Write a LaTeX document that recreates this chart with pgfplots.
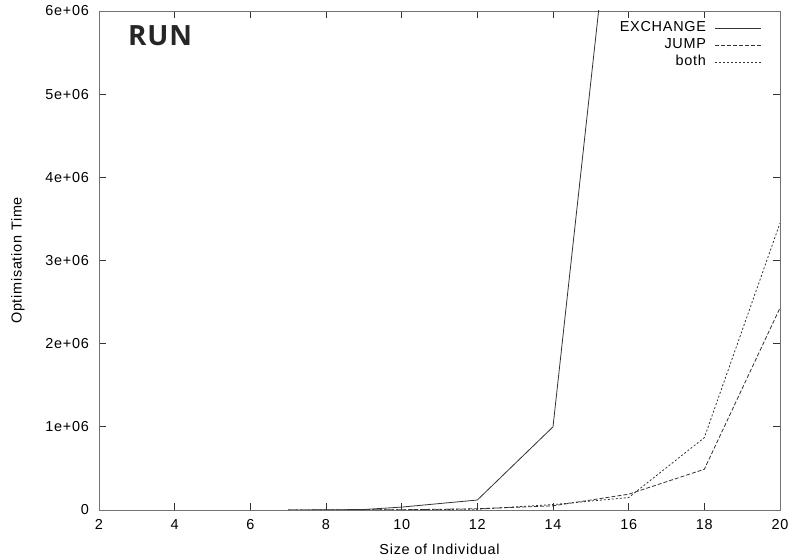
\documentclass[border=0pt]{standalone}
\usepackage{pgfplots}
\pgfplotsset{compat=1.18}
\usepackage{fontspec}
\setmainfont{Liberation Sans}[LetterSpace=5.0]
\newfontfamily\runfont{Open Sans}[LetterSpace=3.0]
\begin{document}
\begin{tikzpicture}
\begin{axis}[
  scale only axis,
  width=681bp, height=499bp,
  xmin=2, xmax=20, ymin=0, ymax=6e6,
  xtick={2,4,...,20},
  xticklabels={2,4,6,8,10,12,14,16,18,20},
  ytick={0,1e6,2e6,3e6,4e6,5e6,6e6},
  yticklabels={0,1e+06,2e+06,3e+06,4e+06,5e+06,6e+06},
  scaled y ticks=false,
  tick align=inside,
  major tick length=7bp,
  every tick/.style={black!80, line width=0.7bp},
  axis line style={black!55, line width=0.9bp},
  tick label style={font=\fontsize{14.5}{16}\selectfont},
  xticklabel style={inner sep=0pt, anchor=north, yshift=-9bp},
  yticklabel style={inner sep=0pt, anchor=east, xshift=-10bp},
  every axis x label/.style={at={(axis description cs:0.5,0)}, yshift=-39bp, anchor=center, font=\fontsize{14.5}{16}\selectfont},
  every axis y label/.style={at={(axis description cs:0,0.5)}, xshift=-81bp, rotate=90, anchor=center, font=\fontsize{14.5}{16}\selectfont},
  xlabel={Size of Individual},
  ylabel={Optimisation Time},
  legend plot pos=right,
  legend cell align=right,
  legend style={draw=none, fill=none, at={(axis description cs:0.9736,0.982)}, anchor=north east,
    inner sep=0pt, row sep=0pt, column sep=9bp,
    nodes={inner sep=0pt, text height=11.5bp, text depth=5.5bp, font=\fontsize{14.5}{16}\selectfont}},
  legend image code/.code={\draw[#1] (0bp,0bp) -- (46bp,0bp);},
]
\addplot[black!80, line width=0.8bp] coordinates {
 (7,0) (8,2000) (9,6000) (10,35000) (12,120000) (14,1000000) (16,9300000)};
\addlegendentry{EXCHANGE}
\addplot[black!80, line width=0.8bp, dash pattern=on 4bp off 2bp] coordinates {
 (7,0) (8,500) (10,3000) (12,15000) (14,50000) (16,190000) (18,490000) (20,2430000)};
\addlegendentry{JUMP}
\addplot[black!80, line width=0.8bp, dash pattern=on 2bp off 2bp] coordinates {
 (7,0) (8,500) (10,3000) (12,10000) (14,65000) (16,150000) (18,870000) (20,3450000)};
\addlegendentry{both}
\node[font=\runfont\bfseries\fontsize{28}{32}\selectfont, text=black!85, anchor=center]
  at (axis description cs:0.0896,0.95) {RUN};
\end{axis}
\pgfresetboundingbox
\useasboundingbox (-99bp,-50bp) rectangle (695bp,510bp);
\end{tikzpicture}
\end{document}
